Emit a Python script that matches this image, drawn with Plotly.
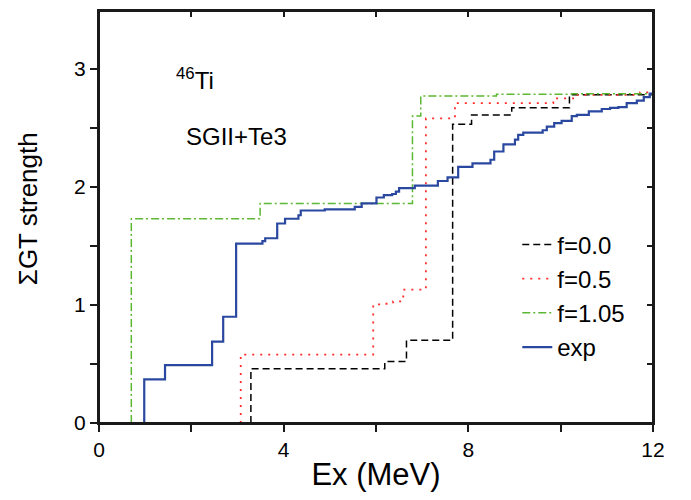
import plotly.graph_objects as go

# ---- data ----
exp_x = [0.98, 0.98, 1.43, 2.45, 2.69, 2.97, 3.54, 3.60, 3.86, 4.03, 4.32, 4.37, 4.89, 5.54, 5.69,
         6.01, 6.17, 6.35, 6.43, 6.50, 6.84, 7.34, 7.55, 7.78, 8.09, 8.48, 8.56, 8.76, 9.01, 9.08,
         9.19, 9.61, 9.70, 9.86, 10.02, 10.24, 10.35, 10.61, 10.89, 11.07, 11.25, 11.43, 11.65,
         11.80, 11.93, 12.0]
exp_y = [0, 0.37, 0.49, 0.69, 0.90, 1.52, 1.54, 1.565, 1.69, 1.73, 1.76, 1.80, 1.81, 1.83, 1.86,
         1.91, 1.93, 1.94, 1.96, 1.99, 2.01, 2.05, 2.08, 2.17, 2.20, 2.23, 2.30, 2.36, 2.40, 2.44,
         2.46, 2.48, 2.51, 2.54, 2.56, 2.60, 2.61, 2.64, 2.66, 2.67, 2.675, 2.71, 2.73,
         2.76, 2.79, 2.80]

f105_x = [0.70, 0.70, 3.49, 6.79, 6.97, 8.61, 10.24, 12.0]
f105_y = [0, 1.73, 1.86, 2.60, 2.77, 2.785, 2.79, 2.80]

f05_x = [3.07, 3.07, 5.94, 6.09, 6.37, 6.59, 7.08, 7.71, 9.84, 10.27, 11.72, 12.0]
f05_y = [0, 0.58, 1.005, 1.01, 1.03, 1.13, 2.58, 2.71, 2.75, 2.78, 2.80, 2.80]

f00_x = [3.29, 3.29, 6.19, 6.66, 7.66, 8.07, 8.94, 10.19, 12.0]
f00_y = [0, 0.46, 0.52, 0.70, 2.53, 2.61, 2.67, 2.78, 2.80]

x_tickvals = [0, 2, 4, 6, 8, 10, 12]
x_ticktext = ["0", "", "4", "", "8", "", "12"]
y_tickvals = [0, 0.5, 1, 1.5, 2, 2.5, 3]
y_ticktext = ["0", "", "1", "", "2", "", "3"]

X_RANGE = [0, 12]
Y_RANGE = [0, 3.49]

FONT = "Liberation Sans, Arial, sans-serif"
AXIS_COLOR = "#1a1a1a"

fig = go.Figure()
fig.add_trace(go.Scatter(x=f00_x, y=f00_y, mode="lines", line_shape="hv", name="f=0.0",
                         line=dict(color="black", width=1.5, dash="7px,4px")))
fig.add_trace(go.Scatter(x=f05_x, y=f05_y, mode="lines", line_shape="hv", name="f=0.5",
                         line=dict(color="#ff2a2a", width=1.8, dash="2px,6px")))
fig.add_trace(go.Scatter(x=f105_x, y=f105_y, mode="lines", line_shape="hv", name="f=1.05",
                         line=dict(color="#5cb832", width=1.5, dash="8px,3px,2px,3px")))
fig.add_trace(go.Scatter(x=exp_x, y=exp_y, mode="lines", line_shape="hv", name="exp",
                         line=dict(color="#2a48a0", width=2.2)))
# thin inner frame along the axis range limits
fig.add_trace(go.Scatter(x=[X_RANGE[0], X_RANGE[1], X_RANGE[1], X_RANGE[0], X_RANGE[0]],
                         y=[Y_RANGE[0], Y_RANGE[0], Y_RANGE[1], Y_RANGE[1], Y_RANGE[0]],
                         mode="lines", line=dict(color=AXIS_COLOR, width=2),
                         showlegend=False, hoverinfo="skip"))
# invisible helper trace for the top/right tick axes
fig.add_trace(go.Scatter(x=[0], y=[0], xaxis="x2", yaxis="y2", mode="markers",
                         marker=dict(opacity=0, size=1), showlegend=False, hoverinfo="skip"))

fig.update_layout(
    width=675, height=484,
    margin=dict(l=91, r=30, t=3, b=69, autoexpand=False),
    paper_bgcolor="white", plot_bgcolor="white",
    font=dict(family=FONT, color="black"),
    showlegend=True,
    legend=dict(x=0.755, y=0.487, xanchor="left", yanchor="top",
                font=dict(size=24, family=FONT, color="black"), bgcolor="rgba(0,0,0,0)"),
    xaxis=dict(range=X_RANGE, tickmode="array", tickvals=x_tickvals, ticktext=x_ticktext,
               ticks="outside", ticklen=7, tickwidth=2, tickcolor=AXIS_COLOR, automargin=False,
               showline=True, linewidth=2, linecolor=AXIS_COLOR,
               showgrid=False, zeroline=False, tickfont=dict(size=21, color="black"),
               title=dict(text="Ex (MeV)", font=dict(size=31, color="black"), standoff=19)),
    yaxis=dict(range=Y_RANGE, tickmode="array", tickvals=y_tickvals, ticktext=y_ticktext,
               ticks="outside", ticklen=7, tickwidth=2, tickcolor=AXIS_COLOR, automargin=False,
               showline=True, linewidth=2, linecolor=AXIS_COLOR,
               showgrid=False, zeroline=False, tickfont=dict(size=21, color="black")),
    xaxis2=dict(range=X_RANGE, overlaying="x", side="top", anchor="y", tickmode="array",
                tickvals=x_tickvals, ticks="inside", ticklen=6, tickwidth=2, tickcolor=AXIS_COLOR,
                showticklabels=False, automargin=False,
                showline=True, linewidth=2, linecolor=AXIS_COLOR, showgrid=False, zeroline=False),
    yaxis2=dict(range=Y_RANGE, overlaying="y", side="right", anchor="x", tickmode="array",
                tickvals=y_tickvals, ticks="inside", ticklen=6, tickwidth=2, tickcolor=AXIS_COLOR,
                showticklabels=False, automargin=False,
                showline=True, linewidth=2, linecolor=AXIS_COLOR, showgrid=False, zeroline=False),
    annotations=[
        dict(x=1.62, y=2.91, xref="x", yref="y", xanchor="left", yanchor="middle",
             text="<sup>46</sup>Ti", showarrow=False, font=dict(size=24, family=FONT, color="black")),
        dict(x=1.84, y=2.43, xref="x", yref="y", xanchor="left", yanchor="middle",
             text="SGII+Te3", showarrow=False, font=dict(size=24, family=FONT, color="black")),
        dict(x=0, y=0.519, xref="paper", yref="paper", xanchor="center", yanchor="middle",
             xshift=-71, textangle=-90, text="ΣGT strength", showarrow=False,
             font=dict(size=26, family=FONT, color="black")),
    ],
)

fig.write_html("out.html")
